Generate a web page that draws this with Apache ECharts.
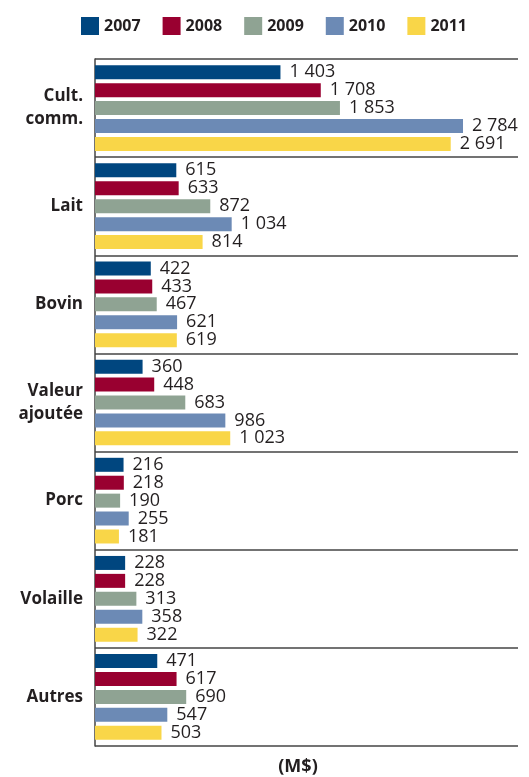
<!DOCTYPE html>
<html>
<head>
<meta charset="utf-8">
<script src="https://cdn.jsdelivr.net/npm/echarts@6/dist/echarts.min.js"></script>
<style>
  html, body { margin: 0; padding: 0; background: #fff; }
  #chart { width: 529px; height: 777px; }
</style>
</head>
<body>
<div id="chart"></div>
<script>
// Recettes par secteur (M$), 2007 à 2011
const categories = ['Cult.\ncomm.', 'Lait', 'Bovin', 'Valeur\najoutée', 'Porc', 'Volaille', 'Autres'];
const years = ['2007', '2008', '2009', '2010', '2011'];
const values2007 = [1403, 615, 422, 360, 216, 228, 471];
const values2008 = [1708, 633, 433, 448, 218, 228, 617];
const values2009 = [1853, 872, 467, 683, 190, 313, 690];
const values2010 = [2784, 1034, 621, 986, 255, 358, 547];
const values2011 = [2691, 814, 619, 1023, 181, 322, 503];
const colors = ['#00467f', '#990030', '#8fa393', '#6c8ab5', '#f9d648'];

const seriesValues = [values2007, values2008, values2009, values2010, values2011];
const FONT = '"Open Sans", "Noto Sans", sans-serif';
const TEXT = '#231f20';

// 1403 -> "1 403"
function fmt(v) {
  return String(v).replace(/\B(?=(\d{3})+(?!\d))/g, ' ');
}

const chart = echarts.init(document.getElementById('chart'));
chart.setOption({
  animation: false,
  color: colors,
  title: {
    text: '(M$)',
    left: 293,
    top: 753,
    textAlign: 'center',
    textStyle: { fontFamily: FONT, fontSize: 18, fontWeight: 'bold', color: TEXT }
  },
  legend: {
    top: 12,
    left: 76,
    itemWidth: 18,
    itemHeight: 18,
    itemGap: 22,
    icon: 'rect',
    textStyle: { fontFamily: FONT, fontSize: 16, fontWeight: 'bold', color: TEXT },
    data: years
  },
  grid: { left: 95, right: 11, top: 59, bottom: 31, containLabel: false },
  xAxis: {
    type: 'value',
    min: 0,
    max: 3200,
    axisLine: { show: false },
    axisTick: { show: false },
    axisLabel: { show: false },
    splitLine: { show: false }
  },
  yAxis: {
    type: 'category',
    inverse: true,
    data: categories,
    axisLine: { show: true, lineStyle: { color: '#444', width: 1.5 } },
    axisTick: { show: false },
    splitLine: { show: true, lineStyle: { color: '#444', width: 1.5 } },
    axisLabel: {
      margin: 12,
      fontFamily: FONT,
      fontSize: 17,
      fontWeight: 'bold',
      color: TEXT,
      lineHeight: 23,
      align: 'right'
    }
  },
  series: seriesValues.map((vals, i) => ({
    name: years[i],
    type: 'bar',
    data: vals,
    barWidth: 14,
    barGap: '28%',
    label: {
      show: true,
      position: 'right',
      distance: 9,
      fontFamily: FONT,
      fontSize: 18,
      color: TEXT,
      formatter: p => fmt(p.value)
    }
  }))
});
</script>
</body>
</html>
